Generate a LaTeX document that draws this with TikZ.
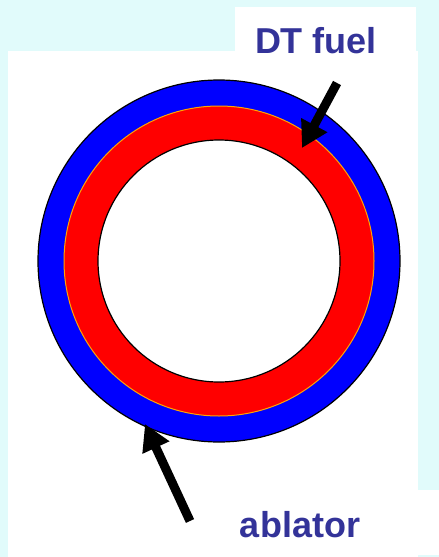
\documentclass[tikz,border=0pt]{standalone}
\usepackage{fontspec}
\setmainfont{Liberation Sans}
\usetikzlibrary{arrows.meta}
\definecolor{slidebg}{HTML}{E1FBFB}
\definecolor{labelblue}{HTML}{333399}
\definecolor{ablblue}{HTML}{0000FF}
\definecolor{fuelred}{HTML}{FF0000}
\definecolor{edgeorange}{HTML}{FFA500}

\begin{document}
\begin{tikzpicture}[
  x=1pt, y=-1pt,
  panel/.style={fill=white, draw=none},
  shelllabel/.style={
    anchor=base, inner sep=0pt,
    font=\fontsize{36}{40}\selectfont\bfseries, text=labelblue
  },
  pointer/.style={
    line width=9pt, black,
    -{Triangle[length=26pt, width=28pt]}
  }
]
\useasboundingbox (0,0) rectangle (439,557);

% background and white panels
\fill[slidebg] (0,0) rectangle (439,557);
\fill[panel] (8,51) rectangle (418,557);
\fill[panel] (235,7) rectangle (416,51);
\fill[panel] (418,490) rectangle (439,555);

% capsule shells
\coordinate (centre) at (219,261);
\draw[line width=1.2pt, fill=ablblue] (centre) circle[radius=181pt];
\draw[line width=1pt, draw=edgeorange, fill=fuelred] (centre) circle[radius=155pt];
\draw[line width=1.2pt, fill=white] (centre) circle[radius=121pt];

% DT FUEL
\node[shelllabel] (fuel) at (316,53) {DT fuel};
\coordinate (fueltail) at (337,83);
\coordinate (fueltip) at (302,148);
\draw[pointer] (fueltail) -- (fueltip);

% ABLATOR
\node[shelllabel] (ablator) at (300,537) {ablator};
\coordinate (abltail) at (190,521);
\coordinate (abltip) at (145,424);
\draw[pointer] (abltail) -- (abltip);

\end{tikzpicture}
\end{document}
